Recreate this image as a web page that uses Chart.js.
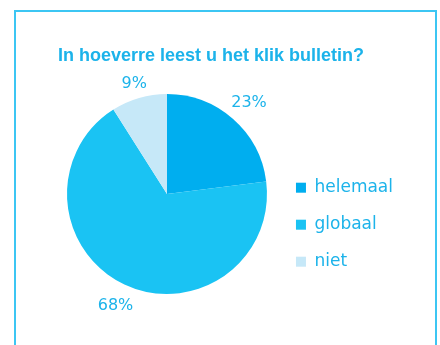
<!DOCTYPE html>
<html>
<head>
<meta charset="utf-8">
<script src="https://cdn.jsdelivr.net/npm/chart.js@4/dist/chart.umd.min.js"></script>
<style>
  html, body { margin: 0; padding: 0; background: #ffffff; }
  #wrap { position: relative; width: 440px; height: 345px; overflow: hidden; }
  #frame { position: absolute; left: 14px; top: 10px; width: 423px; height: 400px;
           border: 2px solid #3CC6F3; border-bottom: none; box-sizing: border-box; }
  canvas { position: absolute; left: 0; top: 0; }
</style>
</head>
<body>
<div id="wrap">
  <div id="frame"></div>
  <canvas id="c" width="440" height="345"></canvas>
</div>
<script>
const titleText = 'In hoeverre leest u het klik bulletin?';
const categories = ['helemaal', 'globaal', 'niet'];
const percentages = [23, 68, 9];
const sliceColors = ['#00AEEF', '#1AC3F3', '#C6E8F8'];
const textColor = '#1CB3EA';

const pctLabels = {
  id: 'pctLabels',
  afterDatasetsDraw(chart) {
    const ctx = chart.ctx;
    const meta = chart.getDatasetMeta(0);
    ctx.save();
    ctx.font = '16px "DejaVu Sans"';
    ctx.fillStyle = textColor;
    ctx.textAlign = 'center';
    ctx.textBaseline = 'middle';
    const gap = 7;
    meta.data.forEach((arc, i) => {
      const p = arc.getProps(['x', 'y', 'startAngle', 'endAngle', 'outerRadius'], true);
      const mid = (p.startAngle + p.endAngle) / 2;
      const txt = chart.data.datasets[0].data[i] + '%';
      const hw = ctx.measureText(txt).width / 2, hh = 7;
      const c = Math.cos(mid), s = Math.sin(mid);
      const r = p.outerRadius + gap + Math.abs(c) * hw + Math.abs(s) * hh;
      ctx.fillText(txt, p.x + c * r, p.y + s * r + 2);
    });
    ctx.restore();
  }
};

new Chart(document.getElementById('c'), {
  type: 'pie',
  data: {
    labels: categories,
    datasets: [{ data: percentages, backgroundColor: sliceColors, borderWidth: 0 }]
  },
  options: {
    responsive: false,
    animation: false,
    layout: { padding: { left: 58, right: 37, top: 0, bottom: 51 } },
    plugins: {
      tooltip: { enabled: false },
      title: {
        display: true,
        text: titleText,
        align: 'start',
        color: textColor,
        font: { family: '"Liberation Sans", Arial, sans-serif', size: 18, weight: 'bold' },
        padding: { top: 45, bottom: 27.4 }
      },
      legend: {
        position: 'right',
        fullSize: false,
        align: 'start',
        title: { display: true, text: ' ', font: { size: 1 }, padding: 32 },
        labels: {
          boxWidth: 10,
          boxHeight: 10,
          padding: 20,
          color: textColor,
          font: { family: '"DejaVu Sans"', size: 17 }
        }
      }
    }
  },
  plugins: [pctLabels]
});
</script>
</body>
</html>
